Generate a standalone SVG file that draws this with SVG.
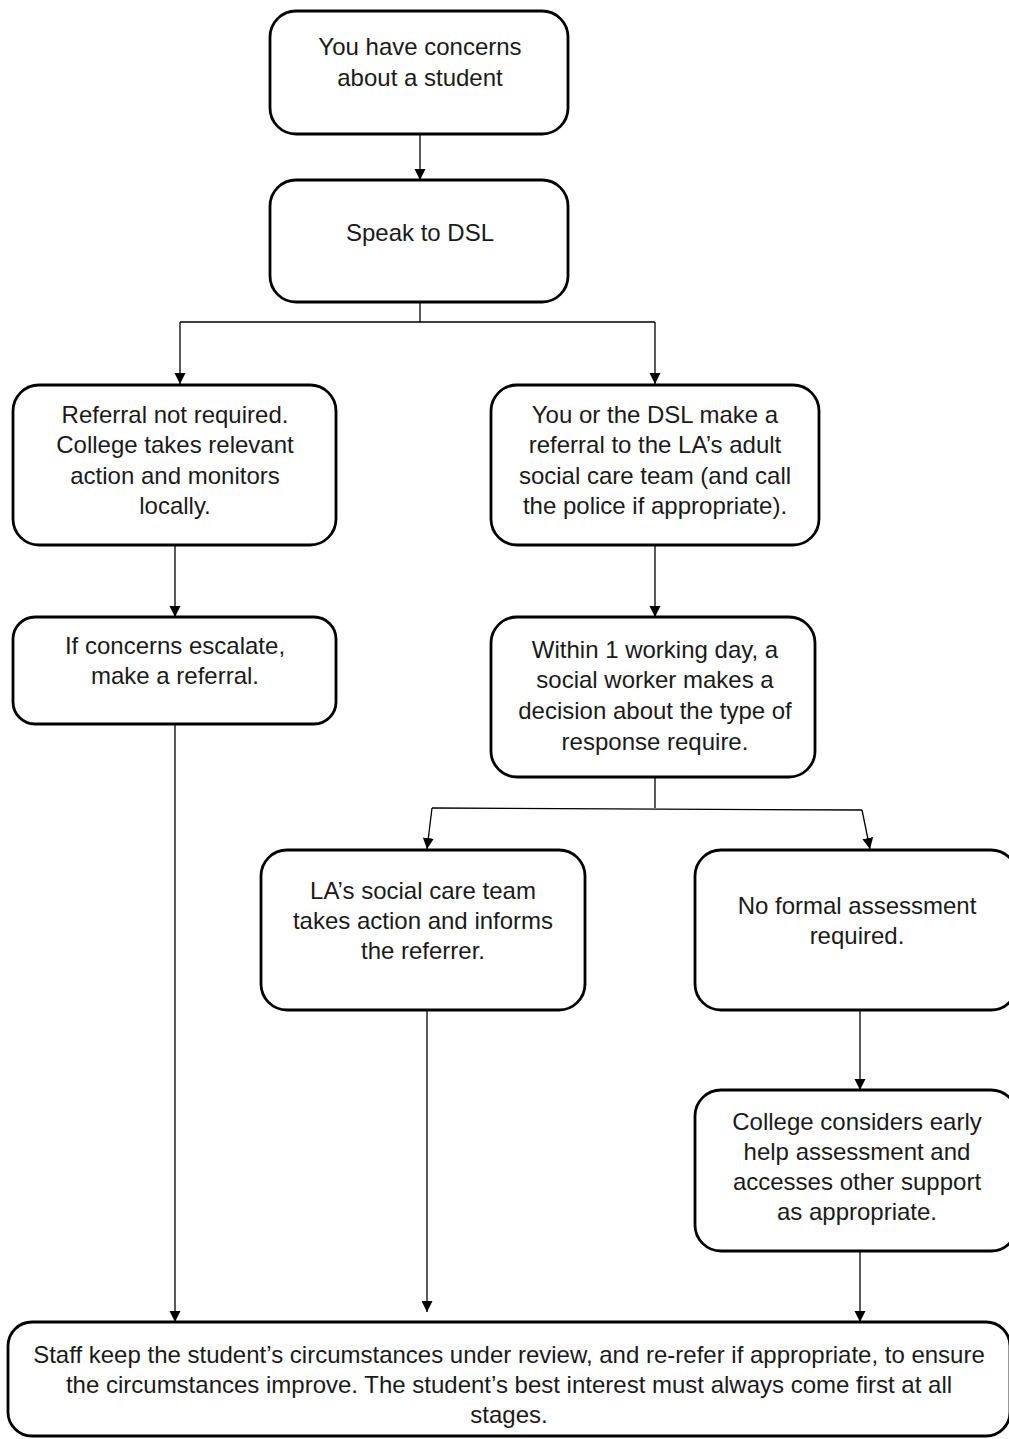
<svg xmlns="http://www.w3.org/2000/svg" width="1009" height="1439" viewBox="0 0 1009 1439">
<defs>
<marker id="arrow" markerUnits="userSpaceOnUse" markerWidth="11" markerHeight="12" refX="11" refY="6" orient="auto">
<path d="M0,0.5 L11,6 L0,11.5 z" fill="#000"/>
</marker>
<style>
.box{fill:#fff;stroke:#000;stroke-width:2.8}
.t{font-family:"Liberation Sans",Arial,sans-serif;font-size:24px;fill:#1a1a1a;text-anchor:middle}
.c{fill:none;stroke:#000;stroke-width:1.3}
.a{marker-end:url(#arrow)}
</style>
</defs>
<rect width="1009" height="1439" fill="#fff"/>
<g id="connectors">
<path class="c a" d="M420,135 L420,180"/>
<path class="c" d="M420,303 L420,322 M180,322 L655,322"/>
<path class="c a" d="M180,322 L180,384"/>
<path class="c a" d="M655,322 L655,384"/>
<path class="c a" d="M175,545 L175,617"/>
<path class="c a" d="M655,545 L655,617"/>
<path class="c" d="M655,778 L655,808 M432,808 L862,810"/>
<path class="c a" d="M432,808 L427,849"/>
<path class="c a" d="M862,810 L870,849"/>
<path class="c a" d="M860,1011 L860,1090"/>
<path class="c a" d="M175,724 L175,1322"/>
<path class="c a" d="M427,1011 L427,1312"/>
<path class="c a" d="M860,1251 L860,1322"/>
</g>
<g id="n1">
<rect class="box" x="270" y="11" width="298" height="123" rx="26"/>
<text class="t" x="420" y="55">You have concerns</text>
<text class="t" x="420" y="86">about a student</text>
</g>
<g id="n2">
<rect class="box" x="270" y="180" width="298" height="122" rx="26"/>
<text class="t" x="420" y="241">Speak to DSL</text>
</g>
<g id="n3">
<rect class="box" x="13" y="385" width="323" height="160" rx="26"/>
<text class="t" x="175" y="423">Referral not required.</text>
<text class="t" x="175" y="453">College takes relevant</text>
<text class="t" x="175" y="484">action and monitors</text>
<text class="t" x="175" y="514">locally.</text>
</g>
<g id="n4">
<rect class="box" x="491" y="385" width="328" height="160" rx="26"/>
<text class="t" x="655" y="423">You or the DSL make a</text>
<text class="t" x="655" y="453">referral to the LA’s adult</text>
<text class="t" x="655" y="484">social care team (and call</text>
<text class="t" x="655" y="514">the police if appropriate).</text>
</g>
<g id="n5">
<rect class="box" x="13" y="617" width="323" height="107" rx="22"/>
<text class="t" x="175" y="654">If concerns escalate,</text>
<text class="t" x="175" y="684">make a referral.</text>
</g>
<g id="n6">
<rect class="box" x="491" y="617" width="324" height="160" rx="26"/>
<text class="t" x="655" y="658">Within 1 working day, a</text>
<text class="t" x="655" y="688">social worker makes a</text>
<text class="t" x="655" y="719">decision about the type of</text>
<text class="t" x="655" y="750">response require.</text>
</g>
<g id="n7">
<rect class="box" x="261" y="850" width="324" height="160" rx="26"/>
<text class="t" x="423" y="899">LA’s social care team</text>
<text class="t" x="423" y="929">takes action and informs</text>
<text class="t" x="423" y="959">the referrer.</text>
</g>
<g id="n8">
<rect class="box" x="695" y="850" width="322" height="160" rx="26"/>
<text class="t" x="857" y="914">No formal assessment</text>
<text class="t" x="857" y="944">required.</text>
</g>
<g id="n9">
<rect class="box" x="695" y="1090" width="322" height="161" rx="26"/>
<text class="t" x="857" y="1130">College considers early</text>
<text class="t" x="857" y="1160">help assessment and</text>
<text class="t" x="857" y="1190">accesses other support</text>
<text class="t" x="857" y="1220">as appropriate.</text>
</g>
<g id="n10">
<rect class="box" x="8" y="1322" width="1002" height="114" rx="24"/>
<text class="t" x="509" y="1363">Staff keep the student’s circumstances under review, and re-refer if appropriate, to ensure</text>
<text class="t" x="509" y="1393">the circumstances improve. The student’s best interest must always come first at all</text>
<text class="t" x="509" y="1423">stages.</text>
</g>
</svg>
